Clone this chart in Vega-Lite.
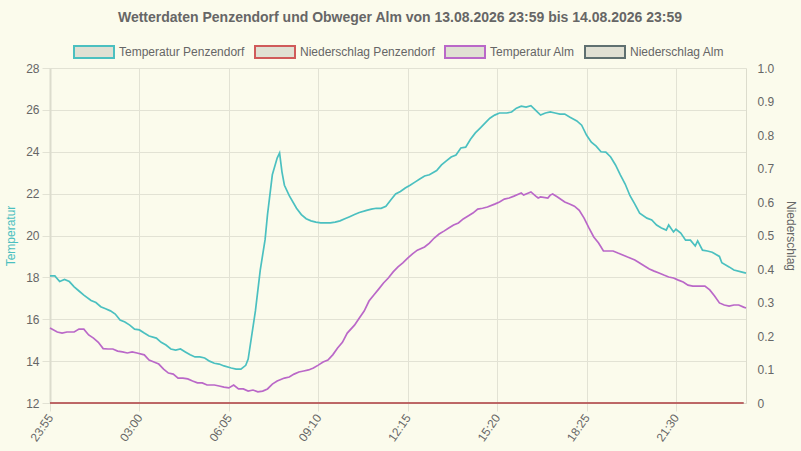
{
  "$schema": "https://vega.github.io/schema/vega-lite/v6.json",
  "autosize": "none",
  "width": 696,
  "height": 335,
  "padding": {"left": 50, "top": 68, "right": 55, "bottom": 48},
  "background": "#fbfbec",
  "title": {
    "text": "Wetterdaten Penzendorf und Obweger Alm von 13.08.2026 23:59 bis 14.08.2026 23:59",
    "anchor": "middle",
    "dx": 2,
    "offset": 6,
    "font": "Liberation Sans",
    "fontSize": 14,
    "fontWeight": "bold",
    "color": "#666666"
  },
  "config": {
    "view": {"stroke": null},
    "axis": {
      "labelFont": "Liberation Sans",
      "labelFontSize": 12,
      "labelColor": "#666666",
      "labelOverlap": false,
      "titleFont": "Liberation Sans",
      "titleFontSize": 12,
      "titleFontWeight": "normal",
      "gridColor": "#e2e2d4",
      "tickColor": "#e2e2d4",
      "domainColor": "#dcdccd"
    }
  },
  "datasets": {
    "penz": [
      {"t": "2026-08-13T23:55", "v": 18.07},
      {"t": "2026-08-14T00:05", "v": 18.07},
      {"t": "2026-08-14T00:15", "v": 17.8},
      {"t": "2026-08-14T00:25", "v": 17.9},
      {"t": "2026-08-14T00:35", "v": 17.8},
      {"t": "2026-08-14T00:45", "v": 17.55},
      {"t": "2026-08-14T00:55", "v": 17.35},
      {"t": "2026-08-14T01:05", "v": 17.15},
      {"t": "2026-08-14T01:20", "v": 16.9},
      {"t": "2026-08-14T01:30", "v": 16.8},
      {"t": "2026-08-14T01:40", "v": 16.6},
      {"t": "2026-08-14T01:50", "v": 16.5},
      {"t": "2026-08-14T02:00", "v": 16.4},
      {"t": "2026-08-14T02:10", "v": 16.25},
      {"t": "2026-08-14T02:20", "v": 15.96},
      {"t": "2026-08-14T02:30", "v": 15.87},
      {"t": "2026-08-14T02:40", "v": 15.72},
      {"t": "2026-08-14T02:50", "v": 15.53},
      {"t": "2026-08-14T03:00", "v": 15.49},
      {"t": "2026-08-14T03:10", "v": 15.34},
      {"t": "2026-08-14T03:20", "v": 15.2},
      {"t": "2026-08-14T03:35", "v": 15.1},
      {"t": "2026-08-14T03:45", "v": 14.9},
      {"t": "2026-08-14T03:55", "v": 14.77},
      {"t": "2026-08-14T04:05", "v": 14.58},
      {"t": "2026-08-14T04:15", "v": 14.53},
      {"t": "2026-08-14T04:25", "v": 14.58},
      {"t": "2026-08-14T04:35", "v": 14.44},
      {"t": "2026-08-14T04:45", "v": 14.3},
      {"t": "2026-08-14T04:55", "v": 14.2},
      {"t": "2026-08-14T05:05", "v": 14.2},
      {"t": "2026-08-14T05:15", "v": 14.15},
      {"t": "2026-08-14T05:25", "v": 14.0},
      {"t": "2026-08-14T05:35", "v": 13.9},
      {"t": "2026-08-14T05:45", "v": 13.86},
      {"t": "2026-08-14T05:55", "v": 13.77},
      {"t": "2026-08-14T06:10", "v": 13.67},
      {"t": "2026-08-14T06:20", "v": 13.62},
      {"t": "2026-08-14T06:30", "v": 13.62},
      {"t": "2026-08-14T06:40", "v": 13.8},
      {"t": "2026-08-14T06:45", "v": 14.1},
      {"t": "2026-08-14T07:00", "v": 16.4},
      {"t": "2026-08-14T07:10", "v": 18.35},
      {"t": "2026-08-14T07:20", "v": 19.8},
      {"t": "2026-08-14T07:25", "v": 21.0},
      {"t": "2026-08-14T07:35", "v": 22.9},
      {"t": "2026-08-14T07:45", "v": 23.7},
      {"t": "2026-08-14T07:50", "v": 23.94},
      {"t": "2026-08-14T07:55", "v": 23.03},
      {"t": "2026-08-14T08:00", "v": 22.4},
      {"t": "2026-08-14T08:10", "v": 21.9},
      {"t": "2026-08-14T08:25", "v": 21.3},
      {"t": "2026-08-14T08:35", "v": 21.0},
      {"t": "2026-08-14T08:45", "v": 20.8},
      {"t": "2026-08-14T08:55", "v": 20.7},
      {"t": "2026-08-14T09:05", "v": 20.64},
      {"t": "2026-08-14T09:15", "v": 20.6},
      {"t": "2026-08-14T09:25", "v": 20.6},
      {"t": "2026-08-14T09:35", "v": 20.6},
      {"t": "2026-08-14T09:45", "v": 20.64},
      {"t": "2026-08-14T09:55", "v": 20.7},
      {"t": "2026-08-14T10:05", "v": 20.8},
      {"t": "2026-08-14T10:15", "v": 20.9},
      {"t": "2026-08-14T10:25", "v": 21.0},
      {"t": "2026-08-14T10:35", "v": 21.1},
      {"t": "2026-08-14T10:50", "v": 21.2},
      {"t": "2026-08-14T11:00", "v": 21.26},
      {"t": "2026-08-14T11:10", "v": 21.3},
      {"t": "2026-08-14T11:20", "v": 21.3},
      {"t": "2026-08-14T11:30", "v": 21.4},
      {"t": "2026-08-14T11:40", "v": 21.7},
      {"t": "2026-08-14T11:50", "v": 21.98},
      {"t": "2026-08-14T12:00", "v": 22.1},
      {"t": "2026-08-14T12:10", "v": 22.27},
      {"t": "2026-08-14T12:20", "v": 22.4},
      {"t": "2026-08-14T12:30", "v": 22.55},
      {"t": "2026-08-14T12:40", "v": 22.7},
      {"t": "2026-08-14T12:50", "v": 22.84},
      {"t": "2026-08-14T13:00", "v": 22.9},
      {"t": "2026-08-14T13:15", "v": 23.1},
      {"t": "2026-08-14T13:25", "v": 23.37},
      {"t": "2026-08-14T13:35", "v": 23.56},
      {"t": "2026-08-14T13:45", "v": 23.75},
      {"t": "2026-08-14T13:55", "v": 23.84},
      {"t": "2026-08-14T14:05", "v": 24.18},
      {"t": "2026-08-14T14:15", "v": 24.22},
      {"t": "2026-08-14T14:25", "v": 24.6},
      {"t": "2026-08-14T14:35", "v": 24.9},
      {"t": "2026-08-14T14:45", "v": 25.13},
      {"t": "2026-08-14T14:55", "v": 25.37},
      {"t": "2026-08-14T15:05", "v": 25.6},
      {"t": "2026-08-14T15:15", "v": 25.75},
      {"t": "2026-08-14T15:25", "v": 25.85},
      {"t": "2026-08-14T15:40", "v": 25.85},
      {"t": "2026-08-14T15:50", "v": 25.9},
      {"t": "2026-08-14T16:00", "v": 26.08},
      {"t": "2026-08-14T16:10", "v": 26.18},
      {"t": "2026-08-14T16:20", "v": 26.13},
      {"t": "2026-08-14T16:30", "v": 26.2},
      {"t": "2026-08-14T16:40", "v": 25.98},
      {"t": "2026-08-14T16:50", "v": 25.75},
      {"t": "2026-08-14T17:00", "v": 25.85},
      {"t": "2026-08-14T17:10", "v": 25.9},
      {"t": "2026-08-14T17:20", "v": 25.85},
      {"t": "2026-08-14T17:30", "v": 25.8},
      {"t": "2026-08-14T17:40", "v": 25.8},
      {"t": "2026-08-14T17:50", "v": 25.66},
      {"t": "2026-08-14T18:05", "v": 25.47},
      {"t": "2026-08-14T18:15", "v": 25.27},
      {"t": "2026-08-14T18:25", "v": 24.8},
      {"t": "2026-08-14T18:35", "v": 24.46},
      {"t": "2026-08-14T18:45", "v": 24.27},
      {"t": "2026-08-14T18:55", "v": 24.0},
      {"t": "2026-08-14T19:05", "v": 23.98},
      {"t": "2026-08-14T19:15", "v": 23.75},
      {"t": "2026-08-14T19:25", "v": 23.37},
      {"t": "2026-08-14T19:35", "v": 22.9},
      {"t": "2026-08-14T19:45", "v": 22.46},
      {"t": "2026-08-14T19:55", "v": 21.9},
      {"t": "2026-08-14T20:05", "v": 21.5},
      {"t": "2026-08-14T20:15", "v": 21.07},
      {"t": "2026-08-14T20:30", "v": 20.83},
      {"t": "2026-08-14T20:40", "v": 20.74},
      {"t": "2026-08-14T20:50", "v": 20.5},
      {"t": "2026-08-14T21:00", "v": 20.36},
      {"t": "2026-08-14T21:10", "v": 20.26},
      {"t": "2026-08-14T21:15", "v": 20.5},
      {"t": "2026-08-14T21:25", "v": 20.17},
      {"t": "2026-08-14T21:30", "v": 20.3},
      {"t": "2026-08-14T21:40", "v": 20.12},
      {"t": "2026-08-14T21:50", "v": 19.78},
      {"t": "2026-08-14T22:00", "v": 19.78},
      {"t": "2026-08-14T22:10", "v": 19.5},
      {"t": "2026-08-14T22:15", "v": 19.74},
      {"t": "2026-08-14T22:25", "v": 19.3},
      {"t": "2026-08-14T22:35", "v": 19.26},
      {"t": "2026-08-14T22:45", "v": 19.2},
      {"t": "2026-08-14T23:00", "v": 19.0},
      {"t": "2026-08-14T23:05", "v": 18.7},
      {"t": "2026-08-14T23:20", "v": 18.5},
      {"t": "2026-08-14T23:30", "v": 18.35},
      {"t": "2026-08-14T23:45", "v": 18.26},
      {"t": "2026-08-14T23:55", "v": 18.2}
    ],
    "alm": [
      {"t": "2026-08-13T23:55", "v": 15.58},
      {"t": "2026-08-14T00:10", "v": 15.39},
      {"t": "2026-08-14T00:20", "v": 15.34},
      {"t": "2026-08-14T00:30", "v": 15.39},
      {"t": "2026-08-14T00:45", "v": 15.39},
      {"t": "2026-08-14T00:55", "v": 15.53},
      {"t": "2026-08-14T01:05", "v": 15.53},
      {"t": "2026-08-14T01:15", "v": 15.25},
      {"t": "2026-08-14T01:25", "v": 15.1},
      {"t": "2026-08-14T01:35", "v": 14.9},
      {"t": "2026-08-14T01:45", "v": 14.6},
      {"t": "2026-08-14T01:55", "v": 14.58},
      {"t": "2026-08-14T02:05", "v": 14.58},
      {"t": "2026-08-14T02:15", "v": 14.48},
      {"t": "2026-08-14T02:25", "v": 14.44},
      {"t": "2026-08-14T02:35", "v": 14.39},
      {"t": "2026-08-14T02:45", "v": 14.44},
      {"t": "2026-08-14T02:55", "v": 14.39},
      {"t": "2026-08-14T03:10", "v": 14.3},
      {"t": "2026-08-14T03:20", "v": 14.05},
      {"t": "2026-08-14T03:30", "v": 13.96},
      {"t": "2026-08-14T03:40", "v": 13.86},
      {"t": "2026-08-14T03:50", "v": 13.62},
      {"t": "2026-08-14T04:00", "v": 13.43},
      {"t": "2026-08-14T04:10", "v": 13.38},
      {"t": "2026-08-14T04:20", "v": 13.19},
      {"t": "2026-08-14T04:30", "v": 13.19},
      {"t": "2026-08-14T04:40", "v": 13.15},
      {"t": "2026-08-14T04:50", "v": 13.05},
      {"t": "2026-08-14T05:00", "v": 12.96},
      {"t": "2026-08-14T05:10", "v": 12.96},
      {"t": "2026-08-14T05:20", "v": 12.86},
      {"t": "2026-08-14T05:35", "v": 12.86},
      {"t": "2026-08-14T05:45", "v": 12.81},
      {"t": "2026-08-14T05:55", "v": 12.76},
      {"t": "2026-08-14T06:05", "v": 12.72},
      {"t": "2026-08-14T06:15", "v": 12.86},
      {"t": "2026-08-14T06:25", "v": 12.67},
      {"t": "2026-08-14T06:35", "v": 12.67},
      {"t": "2026-08-14T06:45", "v": 12.57},
      {"t": "2026-08-14T06:55", "v": 12.62},
      {"t": "2026-08-14T07:05", "v": 12.53},
      {"t": "2026-08-14T07:15", "v": 12.57},
      {"t": "2026-08-14T07:25", "v": 12.67},
      {"t": "2026-08-14T07:35", "v": 12.9},
      {"t": "2026-08-14T07:45", "v": 13.05},
      {"t": "2026-08-14T08:00", "v": 13.19},
      {"t": "2026-08-14T08:10", "v": 13.24},
      {"t": "2026-08-14T08:20", "v": 13.38},
      {"t": "2026-08-14T08:30", "v": 13.48},
      {"t": "2026-08-14T08:40", "v": 13.53},
      {"t": "2026-08-14T08:50", "v": 13.58},
      {"t": "2026-08-14T09:00", "v": 13.67},
      {"t": "2026-08-14T09:10", "v": 13.81},
      {"t": "2026-08-14T09:20", "v": 13.96},
      {"t": "2026-08-14T09:30", "v": 14.05},
      {"t": "2026-08-14T09:40", "v": 14.3},
      {"t": "2026-08-14T09:50", "v": 14.63},
      {"t": "2026-08-14T10:00", "v": 14.9},
      {"t": "2026-08-14T10:10", "v": 15.34},
      {"t": "2026-08-14T10:25", "v": 15.72},
      {"t": "2026-08-14T10:35", "v": 16.06},
      {"t": "2026-08-14T10:45", "v": 16.39},
      {"t": "2026-08-14T10:55", "v": 16.87},
      {"t": "2026-08-14T11:05", "v": 17.16},
      {"t": "2026-08-14T11:15", "v": 17.44},
      {"t": "2026-08-14T11:25", "v": 17.73},
      {"t": "2026-08-14T11:35", "v": 17.97},
      {"t": "2026-08-14T11:45", "v": 18.26},
      {"t": "2026-08-14T11:55", "v": 18.5},
      {"t": "2026-08-14T12:05", "v": 18.69},
      {"t": "2026-08-14T12:15", "v": 18.92},
      {"t": "2026-08-14T12:25", "v": 19.12},
      {"t": "2026-08-14T12:35", "v": 19.3},
      {"t": "2026-08-14T12:50", "v": 19.45},
      {"t": "2026-08-14T13:00", "v": 19.64},
      {"t": "2026-08-14T13:10", "v": 19.88},
      {"t": "2026-08-14T13:20", "v": 20.07},
      {"t": "2026-08-14T13:30", "v": 20.21},
      {"t": "2026-08-14T13:40", "v": 20.36},
      {"t": "2026-08-14T13:50", "v": 20.5},
      {"t": "2026-08-14T14:00", "v": 20.6},
      {"t": "2026-08-14T14:10", "v": 20.79},
      {"t": "2026-08-14T14:20", "v": 20.93},
      {"t": "2026-08-14T14:30", "v": 21.07},
      {"t": "2026-08-14T14:40", "v": 21.26},
      {"t": "2026-08-14T14:50", "v": 21.3},
      {"t": "2026-08-14T15:00", "v": 21.36},
      {"t": "2026-08-14T15:15", "v": 21.5},
      {"t": "2026-08-14T15:25", "v": 21.6},
      {"t": "2026-08-14T15:35", "v": 21.74},
      {"t": "2026-08-14T15:45", "v": 21.79},
      {"t": "2026-08-14T15:55", "v": 21.88},
      {"t": "2026-08-14T16:05", "v": 21.98},
      {"t": "2026-08-14T16:10", "v": 22.03},
      {"t": "2026-08-14T16:15", "v": 21.93},
      {"t": "2026-08-14T16:25", "v": 22.03},
      {"t": "2026-08-14T16:30", "v": 22.08},
      {"t": "2026-08-14T16:40", "v": 21.88},
      {"t": "2026-08-14T16:45", "v": 21.79},
      {"t": "2026-08-14T16:50", "v": 21.84},
      {"t": "2026-08-14T17:05", "v": 21.79},
      {"t": "2026-08-14T17:10", "v": 21.93},
      {"t": "2026-08-14T17:15", "v": 21.98},
      {"t": "2026-08-14T17:25", "v": 21.84},
      {"t": "2026-08-14T17:40", "v": 21.6},
      {"t": "2026-08-14T17:50", "v": 21.5},
      {"t": "2026-08-14T18:00", "v": 21.4},
      {"t": "2026-08-14T18:10", "v": 21.2},
      {"t": "2026-08-14T18:20", "v": 20.83},
      {"t": "2026-08-14T18:30", "v": 20.36},
      {"t": "2026-08-14T18:40", "v": 19.93},
      {"t": "2026-08-14T18:50", "v": 19.64},
      {"t": "2026-08-14T19:00", "v": 19.26},
      {"t": "2026-08-14T19:10", "v": 19.26},
      {"t": "2026-08-14T19:20", "v": 19.26},
      {"t": "2026-08-14T19:30", "v": 19.16},
      {"t": "2026-08-14T19:40", "v": 19.07},
      {"t": "2026-08-14T19:50", "v": 18.97},
      {"t": "2026-08-14T20:05", "v": 18.83},
      {"t": "2026-08-14T20:15", "v": 18.69},
      {"t": "2026-08-14T20:25", "v": 18.54},
      {"t": "2026-08-14T20:35", "v": 18.4},
      {"t": "2026-08-14T20:45", "v": 18.3},
      {"t": "2026-08-14T20:55", "v": 18.21},
      {"t": "2026-08-14T21:05", "v": 18.11},
      {"t": "2026-08-14T21:15", "v": 18.02},
      {"t": "2026-08-14T21:25", "v": 17.97},
      {"t": "2026-08-14T21:35", "v": 17.87},
      {"t": "2026-08-14T21:45", "v": 17.78},
      {"t": "2026-08-14T21:55", "v": 17.63},
      {"t": "2026-08-14T22:05", "v": 17.58},
      {"t": "2026-08-14T22:15", "v": 17.58},
      {"t": "2026-08-14T22:30", "v": 17.58},
      {"t": "2026-08-14T22:40", "v": 17.4},
      {"t": "2026-08-14T22:50", "v": 17.11},
      {"t": "2026-08-14T23:00", "v": 16.78},
      {"t": "2026-08-14T23:10", "v": 16.68},
      {"t": "2026-08-14T23:20", "v": 16.63},
      {"t": "2026-08-14T23:30", "v": 16.68},
      {"t": "2026-08-14T23:40", "v": 16.68},
      {"t": "2026-08-14T23:50", "v": 16.58},
      {"t": "2026-08-14T23:55", "v": 16.54}
    ],
    "rain": [
      {"t": "2026-08-13T23:55", "penz": 0, "alm": 0},
      {"t": "2026-08-14T03:00", "penz": 0, "alm": 0},
      {"t": "2026-08-14T06:05", "penz": 0, "alm": 0},
      {"t": "2026-08-14T09:10", "penz": 0, "alm": 0},
      {"t": "2026-08-14T12:15", "penz": 0, "alm": 0},
      {"t": "2026-08-14T15:20", "penz": 0, "alm": 0},
      {"t": "2026-08-14T18:25", "penz": 0, "alm": 0},
      {"t": "2026-08-14T21:30", "penz": 0, "alm": 0},
      {"t": "2026-08-14T23:50", "penz": 0, "alm": 0}
    ]
  },
  "encoding": {
    "x": {
      "field": "t",
      "type": "temporal",
      "title": null,
      "scale": {
        "domain": [
          {"year": 2026, "month": 8, "date": 13, "hours": 23, "minutes": 55},
          {"year": 2026, "month": 8, "date": 14, "hours": 23, "minutes": 55}
        ]
      },
      "axis": {
        "values": [
          {"year": 2026, "month": 8, "date": 13, "hours": 23, "minutes": 55},
          {"year": 2026, "month": 8, "date": 14, "hours": 3, "minutes": 0},
          {"year": 2026, "month": 8, "date": 14, "hours": 6, "minutes": 5},
          {"year": 2026, "month": 8, "date": 14, "hours": 9, "minutes": 10},
          {"year": 2026, "month": 8, "date": 14, "hours": 12, "minutes": 15},
          {"year": 2026, "month": 8, "date": 14, "hours": 15, "minutes": 20},
          {"year": 2026, "month": 8, "date": 14, "hours": 18, "minutes": 25},
          {"year": 2026, "month": 8, "date": 14, "hours": 21, "minutes": 30}
        ],
        "tickCount": 20,
        "format": "%H:%M",
        "labelAngle": -55,
        "labelAlign": "right",
        "labelBaseline": "middle",
        "labelPadding": 4,
        "tickSize": 8,
        "grid": true
      }
    }
  },
  "layer": [
    {
      "layer": [
        {
          "data": {"name": "penz"},
          "mark": {"type": "line", "strokeWidth": 1.7},
          "encoding": {
            "y": {
              "field": "v",
              "type": "quantitative",
              "title": "Temperatur",
              "scale": {"domain": [12, 28], "nice": false, "zero": false},
              "axis": {
                "values": [12, 14, 16, 18, 20, 22, 24, 26, 28],
                "tickCount": 12,
                "tickSize": 8,
                "labelPadding": 3,
                "titleColor": "#4bc0c0",
                "titlePadding": 8,
                "domainWidth": 2,
                "grid": true
              }
            },
            "color": {
              "datum": "Temperatur Penzendorf",
              "scale": {
                "domain": ["Temperatur Penzendorf", "Niederschlag Penzendorf", "Temperatur Alm", "Niederschlag Alm"],
                "range": ["#4bc0c0", "#d05a5a", "#ba68c8", "#5f7070"]
              },
              "legend": {
                "title": null,
                "orient": "none",
                "legendX": 23,
                "legendY": -37,
                "direction": "horizontal",
                "symbolType": "M-1,-0.3H1V0.3H-1Z",
                "symbolSize": 1600,
                "symbolStrokeWidth": 2,
                "labelFont": "Liberation Sans",
                "labelFontSize": 12,
                "labelColor": "#666666",
                "labelOffset": 4,
                "columnPadding": 6,
                "encode": {
                  "symbols": {
                    "update": {
                      "fill": {"value": "#e0e0d3"},
                      "fillOpacity": {"value": 1},
                      "strokeWidth": {"value": 2}
                    }
                  }
                }
              }
            }
          }
        },
        {
          "data": {"name": "alm"},
          "mark": {"type": "line", "strokeWidth": 1.7},
          "encoding": {
            "y": {"field": "v", "type": "quantitative"},
            "color": {"datum": "Temperatur Alm"}
          }
        }
      ]
    },
    {
      "layer": [
        {
          "data": {"name": "rain"},
          "mark": {"type": "line", "strokeWidth": 1.7},
          "encoding": {
            "y": {
              "field": "alm",
              "type": "quantitative",
              "title": "Niederschlag",
              "scale": {"domain": [0, 1], "nice": false},
              "axis": {
                "orient": "right",
                "values": [0, 0.1, 0.2, 0.3, 0.4, 0.5, 0.6, 0.7, 0.8, 0.9, 1],
                "tickCount": 12,
                "labelExpr": "datum.value == 0 ? '0' : format(datum.value, '.1f')",
                "labelOverlap": false,
                "ticks": false,
                "grid": false,
                "labelPadding": 11,
                "titleColor": "#666666",
                "titlePadding": 10
              }
            },
            "color": {"datum": "Niederschlag Alm"}
          }
        },
        {
          "data": {"name": "rain"},
          "mark": {"type": "line", "strokeWidth": 1.7},
          "encoding": {
            "y": {"field": "penz", "type": "quantitative"},
            "color": {"datum": "Niederschlag Penzendorf"}
          }
        }
      ]
    }
  ],
  "resolve": {"scale": {"y": "independent"}}
}
